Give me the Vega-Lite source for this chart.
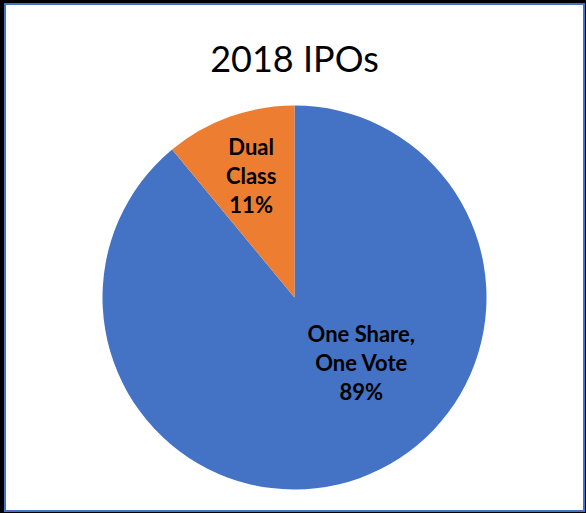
{
  "$schema": "https://vega.github.io/schema/vega-lite/v6.json",
  "width": 586,
  "height": 513,
  "autosize": {"type": "fit", "contains": "padding"},
  "padding": {"left": 5, "top": 4, "right": 2, "bottom": 2},
  "background": "#000000",
  "view": {"fill": "#ffffff", "stroke": "#4472C4", "strokeWidth": 2},
  "title": {"text": "2018 IPOs", "font": "Lato", "fontSize": 36, "fontWeight": "normal", "color": "#000000", "anchor": "middle", "offset": -104, "baseline": "alphabetic"},
  "data": {"values": [
    {"category": "One Share, One Vote", "label": "One Share,\nOne Vote\n89%", "share": 89, "rank": 1},
    {"category": "Dual Class", "label": "Dual\nClass\n11%", "share": 11, "rank": 2}
  ]},
  "encoding": {
    "theta": {"field": "share", "type": "quantitative", "stack": true},
    "order": {"field": "rank", "type": "quantitative"}
  },
  "layer": [
    {
      "mark": {"type": "arc", "outerRadius": 192, "yOffset": 40},
      "encoding": {
        "color": {"field": "category", "type": "nominal", "scale": {"domain": ["One Share, One Vote", "Dual Class"], "range": ["#4472C4", "#ED7D31"]}, "legend": null}
      }
    },
    {
      "mark": {"type": "text", "radius": 128, "yOffset": 40, "dy": -29, "font": "Lato", "fontSize": 22, "fontWeight": "bold", "lineHeight": 29, "lineBreak": "\n", "align": "center", "baseline": "middle", "color": "#000000"},
      "encoding": {"text": {"condition": {"test": "datum.rank == 2", "field": "label"}, "value": ""}}
    },
    {
      "mark": {"type": "text", "radius": 70, "yOffset": 40, "dx": 43, "dy": -28, "font": "Lato", "fontSize": 22, "fontWeight": "bold", "lineHeight": 29, "lineBreak": "\n", "align": "center", "baseline": "middle", "color": "#000000"},
      "encoding": {"text": {"condition": {"test": "datum.rank == 1", "field": "label"}, "value": ""}}
    }
  ]
}
